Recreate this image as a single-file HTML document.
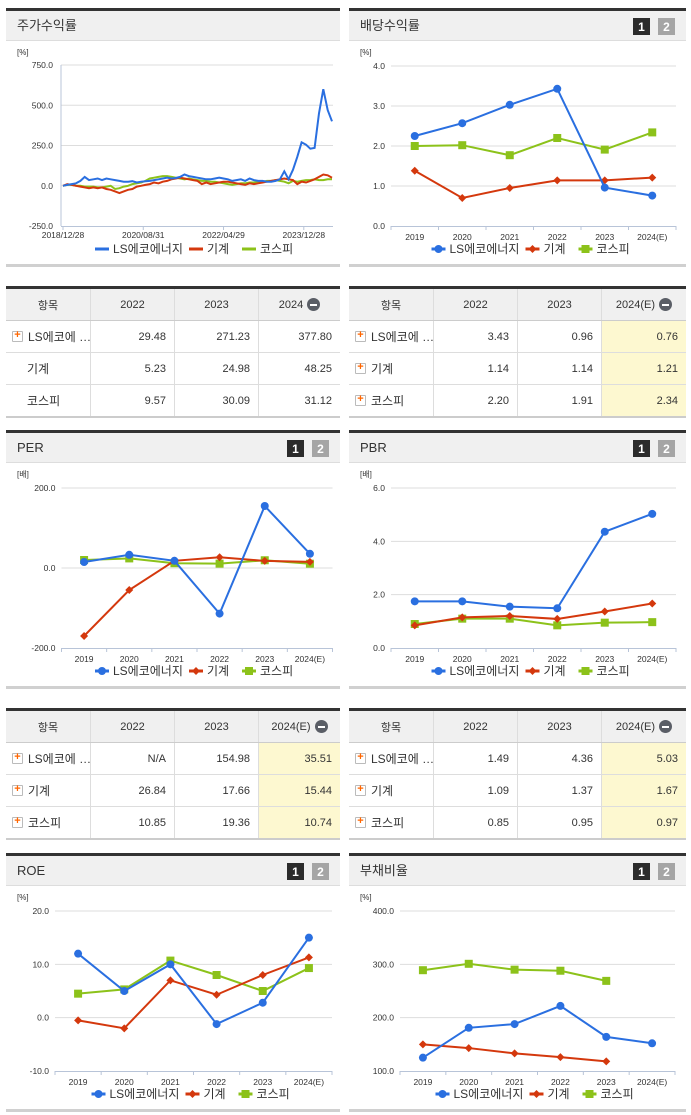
<!DOCTYPE html>
<html><head><meta charset="utf-8">
<style>
body{margin:0;width:691px;height:1115px;background:#fff;position:relative;overflow:hidden;font-family:"Liberation Sans","Noto Sans CJK KR",sans-serif;color:#333}
.tbl{position:absolute;border-top:3px solid #333;border-bottom:2px solid #ccc;font-size:11px}
.row{display:flex;height:31px;border-bottom:1px solid #ddd}
.row:last-child{border-bottom:none}
.row.h{background:#f0f0f0;height:31px;border-bottom:1px solid #ccc}
.c{border-left:1px solid #ddd;display:flex;align-items:center;justify-content:flex-end;padding-right:8px;box-sizing:border-box;white-space:nowrap;overflow:hidden}
.c:first-child{border-left:none;justify-content:flex-start;padding-left:6px;padding-right:0}
.h .c{justify-content:center;padding:0}
.y{background:#fdf8d0}
.plus{display:inline-block;flex:none;width:9px;height:9px;border:1px solid #bbb;background:#fff;margin-right:5px;position:relative;border-radius:1px}
.plus:after{content:"+";position:absolute;left:0;top:-3px;width:9px;text-align:center;color:#f60;font-weight:bold;font-size:11px}
.minus{display:inline-block;width:13px;height:13px;border-radius:7px;background:#5a5e66;margin-left:4px;position:relative}
.minus:after{content:"";position:absolute;left:3px;top:6px;width:7px;height:2px;background:#fff}
</style></head><body>
<svg id="svg" width="691" height="1115" style="position:absolute;left:0;top:0" font-family="Liberation Sans, Noto Sans CJK KR, sans-serif"></svg>
<div id="tables"></div>
<script>
// ---------- data ----------
const years = ["2019","2020","2021","2022","2023","2024(E)"];
const seriesNames = ["LS에코에너지","기계","코스피"];
const returnDates = ["2018/12/28","2020/08/31","2022/04/29","2023/12/28"];
const returnDateIdx = [0,18.5,37,55.5];
const returnLS = [0,5,10,15,30,55,35,40,45,35,45,40,35,30,25,25,28,20,25,28,30,35,40,45,50,45,48,55,70,60,55,50,45,40,40,45,50,45,40,30,35,40,30,45,35,30,30,25,25,30,40,90,40,100,180,270,255,230,235,450,600,470,400];
const returnMach = [0,10,5,0,-5,-10,-15,-10,-15,-10,-20,-25,-35,-45,-35,-25,-20,-5,0,5,10,20,15,25,30,40,45,50,45,40,35,30,10,20,10,15,20,25,25,20,15,10,5,15,10,15,20,25,30,35,40,45,40,35,10,25,20,30,40,55,70,65,50];
const returnKospi = [0,5,5,0,0,-5,-5,-5,-10,-10,-5,0,-20,-15,-5,0,10,15,20,30,45,50,55,60,60,55,50,45,40,45,40,35,30,30,25,25,20,15,10,5,10,15,15,20,20,25,25,30,30,35,30,25,15,30,25,30,35,35,40,35,35,40,40];
const returnTicks = [750,500,250,0,-250];
const divLS = [2.25,2.57,3.03,3.43,0.96,0.76];
const divMach = [1.38,0.70,0.95,1.14,1.14,1.21];
const divKospi = [2.00,2.02,1.77,2.20,1.91,2.34];
const divTicks = [4,3,2,1,0];
const perLS = [15,33,18,-114,154.98,35.51];
const perMach = [-170,-55,18,26.84,17.66,15.44];
const perKospi = [20,24,12,10.85,19.36,10.74];
const perTicks = [200,0,-200];
const pbrLS = [1.75,1.75,1.55,1.49,4.36,5.03];
const pbrMach = [0.85,1.15,1.2,1.09,1.37,1.67];
const pbrKospi = [0.9,1.1,1.1,0.85,0.95,0.97];
const pbrTicks = [6,4,2,0];
const roeLS = [12,5,10,-1.2,2.8,15];
const roeMach = [-0.5,-2,7,4.3,8,11.3];
const roeKospi = [4.5,5.3,10.7,8,5,9.3];
const roeTicks = [20,10,0,-10];
const debtLS = [125,181,188,222,164,152];
const debtMach = [150,143,133,126,118,null];
const debtKospi = [289,301,290,288,269,null];
const debtTicks = [400,300,200,100];

const COL = ["#2a6fe0","#d4380d","#8cc21a"];
const NS = "http://www.w3.org/2000/svg";
const svg = document.getElementById('svg');
function mk(tag, attrs, parent, text){
  const e = document.createElementNS(NS, tag);
  for (const k in attrs) e.setAttribute(k, attrs[k]);
  if (text !== undefined) e.textContent = text;
  (parent || svg).appendChild(e);
  return e;
}
function panel(px, py, w, title, btns){
  const g = mk('g', {});
  
  
  mk('rect', {x:px, y:py, width:w, height:32, fill:'#f0f0f0'}, g);
  mk('rect', {x:px, y:py, width:w, height:3, fill:'#333'}, g);
  mk('rect', {x:px, y:py+32, width:w, height:1, fill:'#ddd'}, g);
  mk('rect', {x:px, y:py+256, width:w, height:3, fill:'#d0d0d0'}, g);
  const t = mk('text', {x:px+11, y:py+22, 'font-size':13, fill:'#333'}, g, title);
  
  
  if (btns){
    const b1 = mk('g', {}, g);
    
    
    mk('rect', {x:px+w-53, y:py+10, width:17, height:17, fill:'#2b2b2b'}, b1);
    mk('text', {x:px+w-44.5, y:py+23, 'font-size':12, 'font-weight':'bold', fill:'#fff', 'text-anchor':'middle'}, b1, '1');
    const b2 = mk('g', {}, g);
    
    
    mk('rect', {x:px+w-28, y:py+10, width:17, height:17, fill:'#a5a5a5'}, b2);
    mk('text', {x:px+w-19.5, y:py+23, 'font-size':12, 'font-weight':'bold', fill:'#fff', 'text-anchor':'middle'}, b2, '2');
  }
  return g;
}
function marker(g, i, x, y){
  if (i===0) mk('circle', {cx:x, cy:y, r:4, fill:COL[0]}, g);
  else if (i===1) mk('path', {d:`M${x} ${y-4}L${x+4} ${y}L${x} ${y+4}L${x-4} ${y}Z`, fill:COL[1]}, g);
  else mk('rect', {x:x-4, y:y-4, width:8, height:8, fill:COL[2]}, g);
}
function legend(g, cx, y, markers){
  const widths = [94,53,58];
  let x = cx - 102;
  for (let i=0;i<3;i++){
    const lg = mk('g', {}, g);
    
    
    mk('line', {x1:x, y1:y, x2:x+14, y2:y, stroke:COL[i], 'stroke-width':3}, lg);
    if (markers) marker(lg, i, x+7, y);
    mk('text', {x:x+18, y:y+4, 'font-size':12, fill:'#333'}, lg, seriesNames[i]);
    x += widths[i];
  }
}
function catChart(px, py, w, title, unit, left, right, ticks, fmt, data){
  const g = panel(px, py, w, title, true);
  const top = py+58, bot = py+218;
  const vmax = ticks[0], vmin = ticks[ticks.length-1];
  const ys = v => bot - (v - vmin) / (vmax - vmin) * (bot - top);
  const band = (right - left) / years.length;
  const xs = i => left + band * (i + 0.5);
  mk('text', {x:px+11, y:py+47, 'font-size':8, fill:'#333'}, g, unit);
  ticks.forEach(t => {
    const yy = ys(t);
    if (t !== vmin) mk('line', {x1:left, y1:yy, x2:right, y2:yy, stroke:'#ddd', 'stroke-width':1}, g);
    const tl = mk('text', {x:left-6, y:yy+3, 'font-size':8.5, fill:'#333', 'text-anchor':'end'}, g, t.toFixed(1));
    
    
  });
  mk('line', {x1:left, y1:bot+0.5, x2:right, y2:bot+0.5, stroke:'#b8c4d8', 'stroke-width':1}, g);
  for (let i=0;i<=years.length;i++) mk('line', {x1:left+band*i, y1:bot, x2:left+band*i, y2:bot+4, stroke:'#b8c4d8'}, g);
  years.forEach((yr,i) => {
    const xl = mk('text', {x:xs(i), y:bot+14, 'font-size':8.5, fill:'#333', 'text-anchor':'middle'}, g, yr);
    
    
  });
  [2,1,0].forEach(si => {
    const arr = data[si];
    const sg = mk('g', {}, g);
    
    
    let d = '';
    arr.forEach((v,i) => { if (v===null) return; d += (d ? 'L' : 'M') + xs(i) + ' ' + ys(v); });
    mk('path', {d, fill:'none', stroke:COL[si], 'stroke-width':2}, sg);
    arr.forEach((v,i) => {
      if (v===null) return;
      const pg = mk('g', {}, sg);
      
      
      marker(pg, si, xs(i), ys(v));
    });
  });
  legend(g, (left+right)/2, py+241, true);
}
// stock return chart
(function(){
  const px=6, py=8, w=334;
  const g = panel(px, py, w, '주가수익률', false);
  const left=61, right=333, top=65, bot=226;
  const ys = v => bot - (v + 250) / 1000 * (bot - top);
  const n = returnLS.length - 1;
  const xs = i => 63 + i * (332 - 63) / n;
  mk('text', {x:px+11, y:py+47, 'font-size':8, fill:'#333'}, g, '[%]');
  returnTicks.forEach(t => {
    const yy = ys(t);
    if (t !== -250) mk('line', {x1:left, y1:yy, x2:right, y2:yy, stroke:'#ddd'}, g);
    const tl = mk('text', {x:left-8, y:yy+3, 'font-size':8.5, fill:'#333', 'text-anchor':'end'}, g, t.toFixed(1));
    
    
  });
  mk('line', {x1:left, y1:bot+0.5, x2:right, y2:bot+0.5, stroke:'#b8c4d8'}, g);
  mk('line', {x1:left, y1:top, x2:left, y2:bot, stroke:'#b8c4d8'}, g);
  returnDates.forEach((dt,i) => {
    const xx = xs(returnDateIdx[i]);
    mk('line', {x1:xx, y1:bot, x2:xx, y2:bot+4, stroke:'#b8c4d8'}, g);
    const xl = mk('text', {x:xx, y:bot+12, 'font-size':8.5, fill:'#333', 'text-anchor':'middle'}, g, dt);
    
    
  });
  [[returnKospi,2],[returnMach,1],[returnLS,0]].forEach(([arr,si]) => {
    const d = arr.map((v,i) => (i ? 'L' : 'M') + xs(i).toFixed(1) + ' ' + ys(v).toFixed(1)).join('');
    const p = mk('path', {d, fill:'none', stroke:COL[si], 'stroke-width':2}, g);
    
    
  });
  legend(g, 197, py+241, false);
})();
catChart(349, 8, 337, '배당수익률', '[%]', 391, 676, divTicks, 1, [divLS, divMach, divKospi]);
catChart(6, 430, 334, 'PER', '[배]', 61.5, 332.5, perTicks, 1, [perLS, perMach, perKospi]);
catChart(349, 430, 337, 'PBR', '[배]', 391, 676, pbrTicks, 1, [pbrLS, pbrMach, pbrKospi]);
catChart(6, 853, 334, 'ROE', '[%]', 55, 332, roeTicks, 1, [roeLS, roeMach, roeKospi]);
catChart(349, 853, 337, '부채비율', '[%]', 400, 675, debtTicks, 1, [debtLS, debtMach, debtKospi]);

// ---------- tables ----------
const tables = [
  {x:6, y:286, name:'stock-return-table', head:['항목','2022','2023','2024'], hl:false, plus:[true,false,false],
   rows:[['LS에코에 …','29.48','271.23','377.80'],['기계','5.23','24.98','48.25'],['코스피','9.57','30.09','31.12']]},
  {x:349, y:286, name:'dividend-table', head:['항목','2022','2023','2024(E)'], hl:true, plus:[true,true,true],
   rows:[['LS에코에 …','3.43','0.96','0.76'],['기계','1.14','1.14','1.21'],['코스피','2.20','1.91','2.34']]},
  {x:6, y:708, name:'per-table', head:['항목','2022','2023','2024(E)'], hl:true, plus:[true,true,true],
   rows:[['LS에코에 …','N/A','154.98','35.51'],['기계','26.84','17.66','15.44'],['코스피','10.85','19.36','10.74']]},
  {x:349, y:708, name:'pbr-table', head:['항목','2022','2023','2024(E)'], hl:true, plus:[true,true,true],
   rows:[['LS에코에 …','1.49','4.36','5.03'],['기계','1.09','1.37','1.67'],['코스피','0.85','0.95','0.97']]}
];
const host = document.getElementById('tables');
tables.forEach(t => {
  const w = t.x < 100 ? 334 : 337;
  const cw = t.x < 100 ? [84,84,84,82] : [84,84,84,85];
  let html = `<div class="tbl" style="left:${t.x}px;top:${t.y}px;width:${w}px">`;
  html += `<div class="row h">`;
  t.head.forEach((h,i) => {
    html += `<div class="c" style="width:${cw[i]}px">${h}${i===3?'<span class="minus"></span>':''}</div>`;
  });
  html += `</div>`;
  t.rows.forEach((r,ri) => {
    html += `<div class="row">`;
    r.forEach((v,i) => {
      let cls = 'c' + (i===3 && t.hl ? ' y' : '');
      let pre = '';
      if (i===0) pre = t.plus[ri] ? '<span class="plus"></span>' : '<span style="display:inline-block;flex:none;width:15px"></span>';
      html += `<div class="${cls}" style="width:${cw[i]}px">${pre}<span style="font-size:${i===0?12:11}px">${v}</span></div>`;
    });
    html += `</div>`;
  });
  html += `</div>`;
  host.insertAdjacentHTML('beforeend', html);
});
</script>
</body></html>
